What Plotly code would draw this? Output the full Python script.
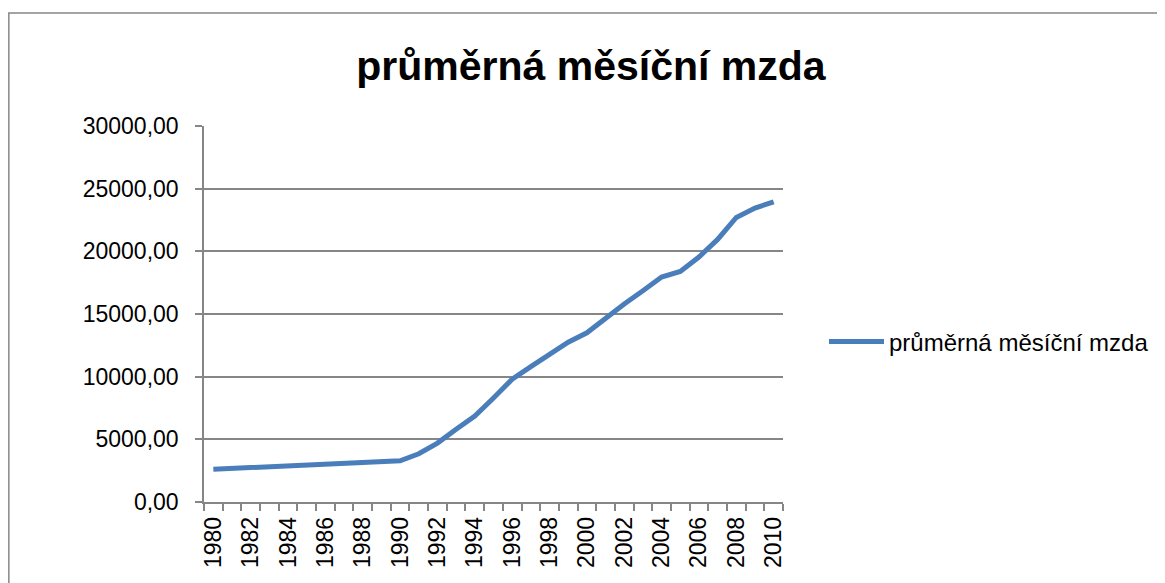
import plotly.graph_objects as go

years = list(range(1980, 2011))
wages = [2610, 2670, 2730, 2790, 2850, 2910, 2970, 3030, 3090, 3160,
         3290, 3850, 4700, 5800, 6850, 8300, 9800, 10800, 11800, 12750,
         13500, 14700, 15800, 16850, 17950, 18400, 19550, 20950, 22700,
         23450, 23950]
series_name = "průměrná měsíční mzda"
title_text = "průměrná měsíční mzda"
tick_years = list(range(1980, 2011, 2))

OFF = 8  # page body margin
W, H = 1165 - OFF, 583 - OFF
L, R, T, B = 204 - OFF, 784 - OFF, 126 - OFF, 502 - OFF
font_family = "Liberation Sans, Arial, sans-serif"
grey = "#868686"

def px_x(p):
    return (p - OFF - L) / (R - L)

def px_y(p):
    return (B - (p - OFF)) / (B - T)

fig = go.Figure()
fig.add_trace(go.Scatter(
    x=years, y=wages, mode="lines", name=series_name,
    line=dict(color="#4A7EBB", width=5),
))

fig.update_layout(
    width=W, height=H,
    margin=dict(l=L, r=W - R, t=T, b=H - B, pad=0),
    paper_bgcolor="white", plot_bgcolor="white",
    separators=", ",
    font=dict(family=font_family, size=23, color="black"),
    title=dict(text="<b>" + title_text + "</b>", x=(591 - OFF) / W, xanchor="center",
               xref="container", yref="container", y=1 - (66 - OFF) / H, yanchor="middle",
               font=dict(size=41, family=font_family, color="black")),
    showlegend=True,
    legend=dict(x=px_x(824), y=px_y(342), xanchor="left", yanchor="middle",
                font=dict(size=24, family=font_family), bgcolor="rgba(0,0,0,0)",
                itemwidth=55),
    xaxis=dict(
        range=[1979.5, 2010.5], tickmode="array", tickvals=tick_years,
        ticktext=[str(y) for y in tick_years], tickangle=-90,
        ticks="", showgrid=False, zeroline=False,
        showline=True, linecolor=grey, linewidth=1.5,
        minor=dict(tick0=1979.5, dtick=1, ticks="outside", ticklen=7,
                   tickcolor=grey, tickwidth=1.5, showgrid=False),
        tickfont=dict(size=23), ticklabelstandoff=4,
    ),
    yaxis=dict(
        range=[0, 30000], dtick=5000, tickformat=".2f",
        ticks="outside", ticklen=7, tickcolor=grey, tickwidth=1.5,
        showgrid=True, gridcolor=grey, gridwidth=1.5, zeroline=False,
        showline=True, linecolor=grey, linewidth=1.5,
        tickfont=dict(size=23), ticklabelstandoff=12,
    ),
    shapes=[dict(type="rect", xref="paper", yref="paper",
                 x0=px_x(8.5), y0=px_y(620), x1=px_x(1200), y1=px_y(13),
                 line=dict(color=grey, width=1.5), fillcolor="rgba(0,0,0,0)",
                 layer="below")],
)

fig.write_html("out.html")
